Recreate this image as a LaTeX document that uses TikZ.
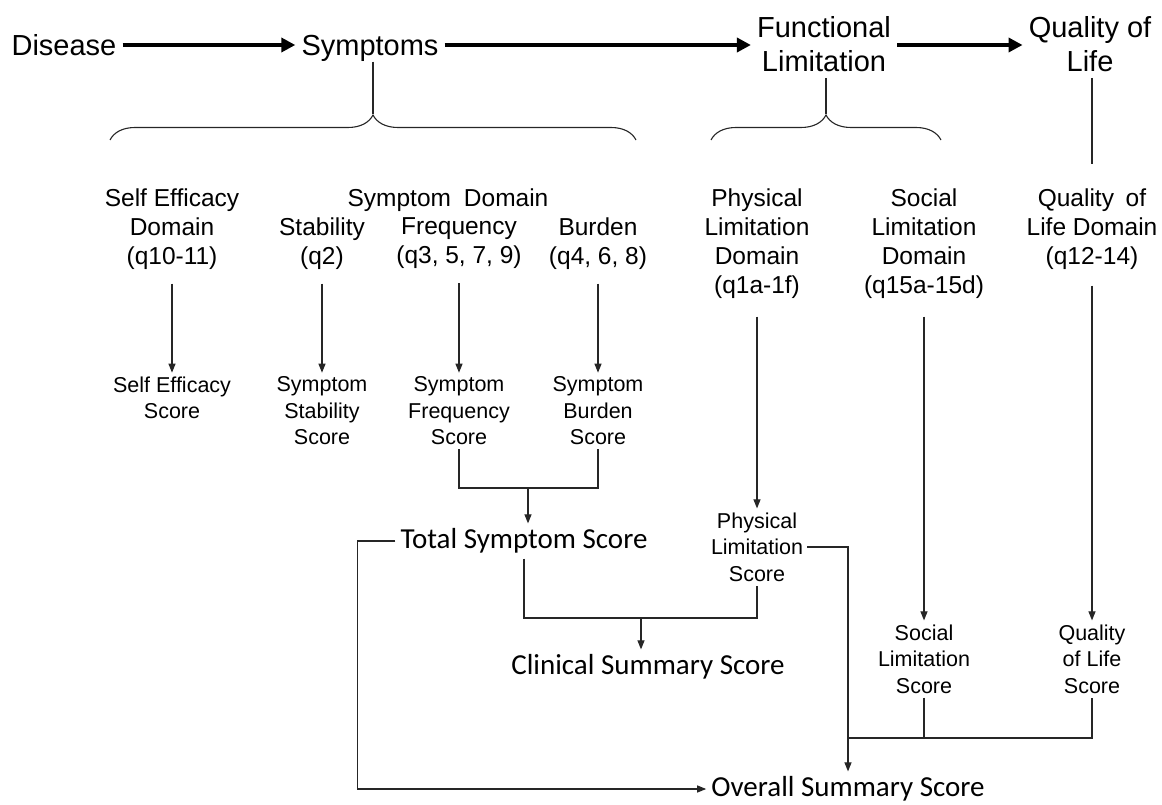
\documentclass[tikz,border=0pt]{standalone}
\usepackage{fontspec}
\setmainfont{Liberation Sans}
\newfontfamily\calibri{Carlito}
\usetikzlibrary{arrows.meta,decorations.pathreplacing}

\begin{document}
\begin{tikzpicture}[x=1pt,y=-1pt,
	stagetext/.style={font=\fontsize{29}{34}\selectfont, align=center, inner sep=6pt},
	oneline/.style={text height=21pt, text depth=0pt},
	domainbox/.style={font=\fontsize{24.5}{29}\selectfont, align=center, inner sep=4pt},
	scorebox/.style={font=\fontsize{21.5}{26.5}\selectfont, align=center, inner sep=4pt},
	sumbox/.style={font=\calibri\fontsize{29}{34}\selectfont, inner sep=5pt},
	bigarrow/.style={line width=4pt, -{Triangle[length=14pt,width=14pt]}},
	linkline/.style={line width=1.1pt, draw=black!85},
	tiparrow/.style={linkline, -{Triangle[length=9pt,width=7pt]}}]
		\useasboundingbox (0,0) rectangle (1162,805);
		% stages
		\node[stagetext, oneline] (dis) at (64,45) {Disease};
		\node[stagetext, oneline] (symp) at (370,45) {Symptoms};
		\node[stagetext] (func) at (824,44) {Functional\\Limitation};
		\node[stagetext] (qol) at (1090,44) {Quality of\\Life};
		\draw[bigarrow] (dis) -- (symp);
		\draw[bigarrow] (symp.east) -- (symp.east -| func.west);
		\draw[bigarrow] (func.east |- symp.east) -- (symp.east -| qol.west);
		% braces
		\coordinate (sympbrace) at (373,114);
		\coordinate (funcbrace) at (826,114);
		\draw[linkline, decorate, decoration={brace,amplitude=25pt}] (110,140) -- (636,140);
		\draw[linkline, decorate, decoration={brace,amplitude=25pt}] (711,140) -- (941,140);
		\draw[linkline] (sympbrace |- symp.south) -- (sympbrace);
		\draw[linkline] (funcbrace |- func.south) -- (funcbrace);
		% domains
		\node[domainbox] (seDom) at (172,229) {Self Efficacy\\Domain\\(q10-11)};
		\node[domainbox] (symDom) at (448,200) {Symptom\hspace{0.25em} Domain};
		\node[domainbox] (stabDom) at (322,243.5) {Stability\\(q2)};
		\node[domainbox] (freqDom) at (459,243.5) {Frequency\\(q3, 5, 7, 9)};
		\node[domainbox] (burdDom) at (598,243.5) {Burden\\(q4, 6, 8)};
		\node[domainbox] (physDom) at (757,243.5) {Physical\\Limitation\\Domain\\(q1a-1f)};
		\node[domainbox] (socDom) at (924,243.5) {Social\\Limitation\\Domain\\(q15a-15d)};
		\node[domainbox] (qolDom) at (1092,229) {Quality\hspace{0.2em} of\\Life Domain\\(q12-14)};
		\draw[linkline, shorten >=20pt] (qolDom.north |- qol.south) -- (qolDom.north);
		% scores
		\node[scorebox] (seSc) at (172,398) {Self Efficacy\\Score};
		\node[scorebox] (stabSc) at (322,411) {Symptom\\Stability\\Score};
		\node[scorebox] (freqSc) at (459,411) {Symptom\\Frequency\\Score};
		\node[scorebox] (burdSc) at (598,411) {Symptom\\Burden\\Score};
		\node[scorebox] (physSc) at (757,547) {Physical\\Limitation\\Score};
		\node[scorebox] (socSc) at (924,659) {Social\\Limitation\\Score};
		\node[scorebox] (qolSc) at (1092,659) {Quality\\of Life\\Score};
		\draw[tiparrow, shorten <=10pt] (seDom) -- (seSc);
		\draw[tiparrow, shorten <=10pt] (stabDom) -- (stabSc);
		\draw[tiparrow, shorten <=10pt] (freqDom) -- (freqSc);
		\draw[tiparrow, shorten <=10pt] (burdDom) -- (burdSc);
		\draw[tiparrow, shorten <=14pt] (physDom) -- (physSc);
		\draw[tiparrow, shorten <=14pt] (socDom) -- (socSc);
		\draw[tiparrow, shorten <=12pt] (qolDom) -- (qolSc);
		% summaries
		\node[sumbox] (totSc) at (524,541) {Total Symptom Score};
		\node[sumbox] (clinSc) at (648,667) {Clinical Summary Score};
		\node[sumbox] (ovSc) at (848,789) {Overall Summary Score};
		\coordinate (fbjoin) at (528,488);
		\coordinate (tpjoin) at (641,618);
		\coordinate (alljoin) at (849,738);
		\draw[linkline] (freqSc.south) |- (burdSc.south |- fbjoin) -- (burdSc.south);
		\draw[tiparrow] (fbjoin) -- (totSc.north -| fbjoin);
		\draw[linkline] (totSc.south) |- (physSc.south |- tpjoin) -- (physSc.south);
		\draw[tiparrow] (tpjoin) -- (clinSc.north -| tpjoin);
		\draw[tiparrow] (totSc.west) -- ++(-38,0) |- (ovSc.west);
		\draw[tiparrow] (physSc.east) -| (ovSc.north);
		\draw[linkline, line width=2pt] (alljoin) -| (qolSc.south);
		\draw[linkline] (socSc.south) -- (socSc.south |- alljoin);
\end{tikzpicture}
\end{document}
